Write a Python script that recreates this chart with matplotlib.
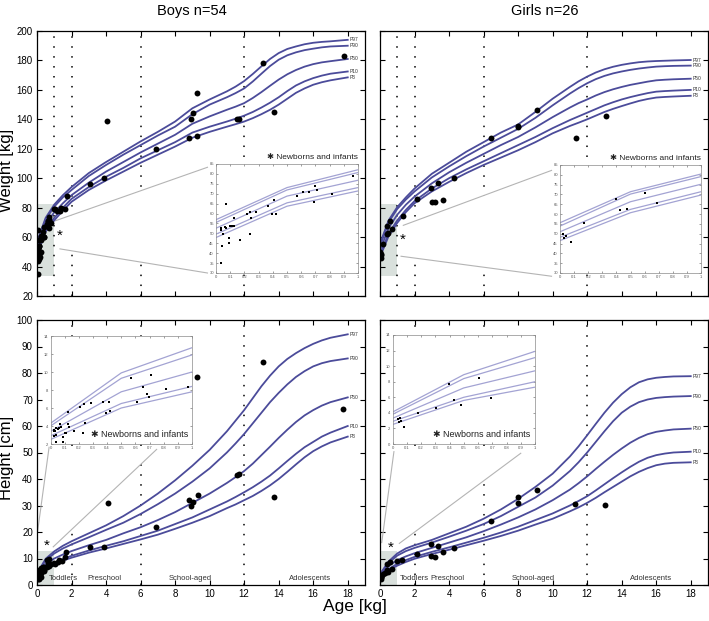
import matplotlib
matplotlib.use("Agg")
import matplotlib.pyplot as plt
from matplotlib.patches import Rectangle, Polygon
from matplotlib.lines import Line2D

plt.rcParams['font.family'] = ['Liberation Sans', 'DejaVu Sans']

# ---------------- data ----------------
ages = [0, 0.5, 1, 1.5, 2, 3, 4, 5, 6, 7, 8, 9, 10, 11, 11.5, 12, 12.5, 13, 13.5,
        14, 14.5, 15, 15.5, 16, 16.5, 17, 18]
inset_ages = [0, 0.5, 1]
pct_names = ["P97", "P90", "P50", "P10", "P3"]

# top row (y axis 20-200)
boys_top_pct = {
    "P97": [56.9, 73.1, 82.1, 88.5, 94, 103.5, 111, 118, 125, 131.5, 138.5, 147.5, 153.5, 159, 162.2, 166, 170.8, 176, 181,
            185, 187.8, 189.5, 191, 192, 192.6, 193, 194],
    "P90": [55.5, 71.9, 80.7, 87, 92, 101.5, 109, 116, 122.5, 129, 135, 143.5, 150, 155, 157.8, 161, 165.7, 171, 176.2,
            180.5, 183.5, 185.5, 187, 188, 188.9, 189.5, 190],
    "P50": [52.6, 68.8, 76.8, 83, 88.5, 97, 104.5, 111, 117.5, 123.5, 129.5, 137, 142, 146.5, 148.6, 151, 154.5, 158.5, 162.8,
            167, 170.6, 173.5, 175.8, 177.5, 178.7, 179.5, 181],
    "P10": [49.6, 65.4, 73.1, 80, 86, 94, 101, 107, 113.5, 119, 124.5, 131, 135, 138.5, 140.4, 142.5, 145, 148, 151.3,
            155, 159.2, 163, 165.8, 168, 169.7, 171, 172.5],
    "P3":  [47.9, 63.7, 71.4, 78, 84, 92, 98.5, 104.5, 110.5, 116, 121.5, 127.5, 131.5, 135, 136.7, 138.5, 140.8, 143.5, 146.5,
            150, 154, 158, 161, 163.5, 165.2, 166.5, 168.5],
}
girls_top_pct = {
    "P97": [55.6, 71.4, 80.4, 87, 93, 103, 110.5, 118, 124.5, 131, 136.5, 145, 154, 162, 165.8, 169, 171.8, 174, 175.7,
            177, 178, 178.8, 179.3, 179.6, 179.8, 180, 180.3],
    "P90": [53.9, 70.2, 79.1, 85.5, 91, 100.5, 108, 115, 121.5, 127.5, 133.5, 141, 149.5, 157.5, 161.2, 164.5, 167.3, 169.5, 171.2,
            172.5, 173.6, 174.5, 175.2, 175.8, 176.1, 176.3, 176.5],
    "P50": [51.0, 66.3, 75.2, 82, 87.5, 96.5, 104, 110.5, 116.5, 122.5, 128, 134.5, 141.5, 148, 151, 153.5, 156.2, 158.5, 160.4,
            162, 163.4, 164.5, 165.6, 166.5, 166.9, 167.2, 167.6],
    "P10": [48.2, 62.4, 71.4, 78.5, 84.5, 93, 100, 106, 111.5, 117, 122.5, 128, 134, 139.5, 142, 144.5, 147, 149.5, 151.6,
            153.5, 155.1, 156.5, 157.8, 158.8, 159.2, 159.5, 160],
    "P3":  [46.5, 60.7, 69.7, 77, 83, 91, 97.5, 103.5, 109, 114, 119, 124.5, 130.5, 135.5, 137.7, 140, 142.5, 145, 147.1,
            149, 150.8, 152.5, 153.8, 154.8, 155.2, 155.5, 156],
}
# bottom row (y axis 0-100)
boys_bot_pct = {
    "P97": [4.3, 9.9, 12.7, 14.8, 16.5, 19.5, 22.5, 26, 30, 34.5, 39.5, 45, 51, 58, 62, 66, 70.5, 75, 79,
            82.5, 85.3, 87.5, 89.4, 91, 92.3, 93.3, 94.6],
    "P90": [4.0, 9.3, 11.9, 13.8, 15.3, 18, 20.8, 23.5, 26.8, 30.5, 34.5, 39, 44, 50, 53.4, 57, 61, 65, 69,
            72.5, 75.7, 78.5, 80.7, 82.5, 83.7, 84.5, 85.5],
    "P50": [3.4, 7.8, 10.0, 11.5, 12.8, 15, 17, 19.5, 21.8, 24.5, 27.5, 31, 34.5, 38.5, 40.7, 43, 45.8, 49, 52.2,
            55.5, 58.6, 61.5, 64, 66, 67.7, 69, 70.8],
    "P10": [2.9, 6.5, 8.4, 9.8, 11, 13, 14.8, 16.5, 18.5, 20.5, 23, 25.5, 28.5, 31.5, 33.2, 35, 36.9, 39, 41.3,
            44, 46.8, 49.5, 52, 54, 56, 57.5, 60],
    "P3":  [2.5, 6.0, 7.8, 9.2, 10.3, 12.2, 13.8, 15.5, 17.2, 19, 21.2, 23.5, 26, 29, 30.4, 32, 33.6, 35.5, 37.6,
            40, 42.7, 45.5, 48.2, 50.5, 52.3, 53.8, 56],
}
girls_bot_pct = {
    "P97": [4.1, 8.9, 11.9, 13.8, 15, 17, 19.5, 22, 25, 28.5, 32.5, 37, 42, 48.5, 52.3, 56.5, 60.8, 65, 68.8,
            72, 74.6, 76.5, 77.6, 78.2, 78.5, 78.7, 78.8],
    "P90": [3.8, 8.4, 11.1, 12.8, 14, 16, 18.2, 20.5, 23, 26, 29.5, 33, 37.5, 43, 46.3, 50, 54, 58, 61.8,
            65, 67.3, 69, 70, 70.6, 70.9, 71.1, 71.3],
    "P50": [3.3, 7.2, 9.4, 10.8, 12, 14, 16, 18, 20.3, 22.8, 25.5, 28.5, 32, 36, 38.4, 41, 43.8, 46.5, 49.1,
            51.5, 53.7, 55.5, 56.9, 57.8, 58.3, 58.7, 59],
    "P10": [2.9, 6.0, 8.0, 9.4, 10.6, 12.5, 14.2, 16, 17.8, 19.8, 22, 24.5, 27, 30, 31.7, 33.5, 35.7, 38, 40.3,
            42.5, 44.6, 46.5, 48, 49, 49.6, 50, 50.3],
    "P3":  [2.5, 5.6, 7.3, 8.7, 9.9, 11.7, 13.3, 15, 16.7, 18.5, 20.5, 22.8, 25, 27.8, 29.3, 31, 32.9, 35, 37,
            39, 41, 42.7, 44.1, 45.2, 45.8, 46.1, 46.3],
}

# first-year (inset) percentile lines
boys_top_inset = {"P97": [56.9, 73.1, 82.1], "P90": [55.5, 71.9, 80.7], "P50": [52.6, 68.8, 76.8],
                  "P10": [49.6, 65.4, 73.1], "P3": [47.9, 63.7, 71.4]}
girls_top_inset = {"P97": [55.6, 71.4, 80.4], "P90": [53.9, 70.2, 79.1], "P50": [51.0, 66.3, 75.2],
                   "P10": [48.2, 62.4, 71.4], "P3": [46.5, 60.7, 69.7]}
boys_bot_inset = {"P97": [4.3, 9.9, 12.7], "P90": [4.0, 9.3, 11.9], "P50": [3.4, 7.8, 10.0],
                  "P10": [2.9, 6.5, 8.4], "P3": [2.5, 6.0, 7.8]}
girls_bot_inset = {"P97": [4.1, 8.9, 11.9], "P90": [3.8, 8.4, 11.1], "P50": [3.3, 7.2, 9.4],
                   "P10": [2.9, 6.0, 8.0], "P3": [2.5, 5.6, 7.3]}

# patients
boys_top_inf_age = [0.035, 0.035, 0.038, 0.04, 0.035, 0.052, 0.063, 0.073, 0.07, 0.094, 0.092, 0.101, 0.113,
                    0.129, 0.129, 0.169, 0.216, 0.237, 0.246, 0.237, 0.284, 0.369, 0.394, 0.411, 0.423, 0.570,
                    0.610, 0.655, 0.697, 0.711, 0.692, 0.819, 0.967]
boys_top_inf_val = [52.6, 51.8, 52.8, 43.6, 34.9, 49.6, 53.1, 64.9, 52.6, 47.7, 45.3, 53.8, 53.8,
                    53.8, 57.7, 46.8, 59.8, 60.6, 57.9, 49.7, 60.9, 63.7, 60.0, 66.8, 59.8, 68.8,
                    70.9, 70.9, 73.8, 71.9, 65.9, 69.8, 79.0]
boys_top_age = [1.02, 1.18, 1.31, 1.37, 1.62, 1.74, 3.05, 3.86, 4.05, 6.87, 8.8, 8.93, 9.03, 9.26, 9.28,
                11.58, 11.73, 13.12, 13.7, 17.77]
boys_top_val = [78.9, 78, 78, 80, 78.9, 88, 96, 100, 139, 120, 127, 140, 144, 158, 129,
                140, 140, 178, 145, 183]

girls_top_inf_age = [0.024, 0.031, 0.043, 0.076, 0.173, 0.397, 0.426, 0.478, 0.605, 0.688]
girls_top_inf_val = [49.9, 48.0, 48.8, 46.0, 55.3, 67.7, 61.9, 62.8, 70.7, 65.8]
girls_top_age = [1.31, 2.14, 2.97, 3.01, 3.2, 3.38, 3.67, 4.3, 6.42, 7.97, 8.0, 9.09, 11.34, 13.08]
girls_top_val = [74.3, 85.9, 93.1, 84.1, 84.1, 96.5, 85.2, 99.9, 127.1, 135.5, 134.5, 146.3, 127.1, 142.3]

boys_bot_inf_age = [0.024, 0.028, 0.033, 0.04, 0.052, 0.057, 0.066, 0.071, 0.028, 0.042, 0.038, 0.09, 0.09,
                    0.1, 0.113, 0.123, 0.127, 0.13, 0.165, 0.212, 0.236, 0.231, 0.245, 0.283, 0.37, 0.394,
                    0.41, 0.42, 0.568, 0.608, 0.656, 0.684, 0.693, 0.712, 0.816, 0.972]
boys_bot_inf_val = [3.44, 3.56, 3.5, 3.74, 3.67, 3.81, 4.22, 3.85, 2.93, 3.0, 2.19, 2.74, 2.22,
                    3.26, 3.26, 5.6, 4.19, 3.93, 3.44, 6.15, 6.41, 3.19, 4.37, 6.52, 6.7, 5.41,
                    6.63, 5.7, 9.37, 6.67, 8.37, 7.52, 7.26, 9.67, 8.07, 8.37]
boys_bot_age = [1.05, 1.2, 1.3, 1.45, 1.6, 1.7, 3.05, 3.86, 4.09, 6.87, 8.8, 8.93, 9.03, 9.3, 9.26,
                11.6, 11.73, 13.12, 13.7, 17.75]
boys_bot_val = [8.0, 8.5, 9.5, 9.2, 10.5, 12.3, 14.3, 14.2, 31.1, 22, 31.9, 29.9, 31.2, 34, 78.4,
                41.4, 41.8, 84.3, 33.1, 66.4]

girls_bot_inf_age = [0.037, 0.044, 0.054, 0.061, 0.084, 0.18, 0.304, 0.397, 0.432, 0.484, 0.607, 0.692]
girls_bot_inf_val = [3.18, 2.87, 3.35, 3.0, 2.18, 4.0, 4.6, 7.77, 5.69, 5.04, 8.5, 5.9]
girls_bot_age = [1.0, 1.27, 2.12, 2.97, 2.97, 3.18, 3.36, 3.67, 4.26, 6.41, 7.99, 7.99, 9.09, 11.31, 13.04]
girls_bot_val = [9.2, 9.4, 11.6, 15.3, 10.9, 10.6, 14.7, 12.3, 13.8, 24.2, 33.3, 30.8, 35.8, 30.4, 30.1]

stage_names = ["Toddlers", "Preschool", "School-aged", "Adolescents"]

# ---------------- layout ----------------
W, H = 709, 621
fig = plt.figure(figsize=(W / 100, H / 100), dpi=100)


def rect(x0, y0, x1, y1):
    return [x0 / W, 1 - y1 / H, (x1 - x0) / W, (y1 - y0) / H]


CURVE = "#4b4b9a"
INSET_LINE = "#a3a3d3"
SHADE = "#d9e0dc"
CONN = "#b4b4b4"
TXT = "#333333"


def to_fig(tr, xy):
    return fig.transFigure.inverted().transform(tr.transform(xy))


def panel(main_r, inset_r, pct, inset_pct, inf_age, inf_val, age, val, top,
          star, conn_main, conn_inset, stage_x, labels_left, inset_ylim, inset_yticks):
    ax = fig.add_axes(rect(*main_r))
    ax.set_xlim(0, 19)
    if top:
        ax.set_ylim(20, 200)
        ax.set_yticks(range(20, 201, 20))
        vl = [1, 2, 6, 12]
        shade = (33.5, 82.5)
    else:
        ax.set_ylim(0, 100)
        ax.set_yticks(range(0, 101, 10))
        vl = [2, 6, 12]
        shade = (0, 13)
    ax.set_xticks(range(0, 19, 2))
    ax.tick_params(direction="in", top=True, right=True, length=3.5, width=0.8, labelsize=7, pad=3)
    if top:
        ax.tick_params(labelbottom=False)
    if not labels_left:
        ax.tick_params(labelleft=False)
    for s in ax.spines.values():
        s.set_linewidth(0.9)

    ax.add_patch(Rectangle((0, shade[0]), 1, shade[1] - shade[0], fc=SHADE, ec="none", zorder=0.5))
    for x in vl:
        ax.axvline(x, color="k", ls=(0, (1, 5.5)), lw=1.1, zorder=1)

    for k in pct_names:
        ax.plot(ages, pct[k], color=CURVE, lw=1.3, zorder=2)
        ax.text(18.12, pct[k][-1], k, fontsize=3.5, color=TXT, va="center", ha="left")

    ax.scatter(inf_age + age, inf_val + val, s=18, c="k", zorder=4, lw=0)
    ax.text(star[0], star[1], "*", fontsize=11, ha="center", va="center", zorder=5)

    if not top:
        for name, x in zip(stage_names, stage_x):
            ax.text(x, 2.6, name, fontsize=5.5, color=TXT, ha="center", va="center", zorder=5)

    # inset
    ai = fig.add_axes(rect(*inset_r))
    for k in pct_names:
        ai.plot(inset_ages, inset_pct[k], color=INSET_LINE, lw=0.9)
    ai.scatter(inf_age, inf_val, s=2.5, marker="s", c="k", lw=0, zorder=3)
    ai.set_xlim(0, 1)
    ai.set_ylim(*inset_ylim)
    ai.set_yticks(inset_yticks)
    ai.set_xticks([i / 10 for i in range(11)])
    ai.set_xticklabels(["0"] + ["%.1f" % (i / 10) for i in range(1, 10)] + ["1"])
    ai.tick_params(direction="in", top=True, right=True, length=1.5, width=0.4, labelsize=3, pad=1.5,
                   colors="#555555")
    for s in ai.spines.values():
        s.set_linewidth(0.5)
        s.set_color("#8a8a8a")
    if top:
        ai.text(1.0, 1.03, "\u2731 Newborns and infants", transform=ai.transAxes, ha="right", va="bottom",
                fontsize=6, color="#222222")
    else:
        ai.text(0.97, 0.05, "\u2731 Newborns and infants", transform=ai.transAxes, ha="right", va="bottom",
                fontsize=6.5, color="#222222")

    # zoom cone from the shaded first year to the inset
    m1 = to_fig(ax.transData, conn_main[0])
    m2 = to_fig(ax.transData, conn_main[1])
    i1 = to_fig(ai.transAxes, conn_inset[0])
    i2 = to_fig(ai.transAxes, conn_inset[1])
    ax.add_artist(Polygon([m1, i1, i2, m2], closed=True, transform=fig.transFigure,
                          fc="white", ec="none", zorder=1.5))
    for a, b in ((m1, i1), (m2, i2)):
        ax.add_artist(Line2D([a[0], b[0]], [a[1], b[1]], transform=fig.transFigure,
                             color=CONN, lw=0.8, zorder=1.6))
    return ax, ai


panel((37, 31, 365, 296), (216, 164, 358, 273), boys_top_pct, boys_top_inset,
      boys_top_inf_age, boys_top_inf_val, boys_top_age, boys_top_val, True,
      (1.3, 61), [(1.04, 71), (1.33, 52)], [(-0.06, 0.97), (-0.06, 0.0)],
      None, True, (30, 85), range(30, 86, 5))
panel((380, 31, 708, 296), (560, 165, 701, 273), girls_top_pct, girls_top_inset,
      girls_top_inf_age, girls_top_inf_val, girls_top_age, girls_top_val, True,
      (1.31, 58), [(1.35, 68), (1.22, 47)], [(-0.06, 0.95), (-0.06, -0.03)],
      None, False, (30, 85), range(30, 86, 5))
panel((37, 320, 365, 585), (50.5, 336, 192, 444), boys_bot_pct, boys_bot_inset,
      boys_bot_inf_age, boys_bot_inf_val, boys_bot_age, boys_bot_val, False,
      (0.56, 14.7), [(0.02, 19.5), (0.94, 14.4)], [(-0.01, -0.03), (0.75, -0.05)],
      [1.5, 3.9, 8.9, 15.8], True, (2, 14), range(2, 15, 2))
panel((380, 320, 708, 585), (392.5, 335, 535, 444), girls_bot_pct, girls_bot_inset,
      girls_bot_inf_age, girls_bot_inf_val, girls_bot_age, girls_bot_val, False,
      (0.6, 14.2), [(0.1, 16), (1.12, 15.7)], [(0.01, -0.07), (0.9, -0.085)],
      [2.0, 3.9, 8.85, 15.7], False, (0, 14), range(0, 15, 2))

fig.text(0.27, 0.983, "Boys n=54", ha="center", va="center", fontsize=10.5)
fig.text(0.769, 0.983, "Girls n=26", ha="center", va="center", fontsize=10.5)
fig.text(0.0095, 0.725, "Weight [kg]", rotation=90, ha="center", va="center", fontsize=12)
fig.text(0.0095, 0.262, "Height [cm]", rotation=90, ha="center", va="center", fontsize=12)
fig.text(0.5, 0.023, "Age [kg]", ha="center", va="center", fontsize=12.5)

fig.savefig("out.png", dpi=100)
